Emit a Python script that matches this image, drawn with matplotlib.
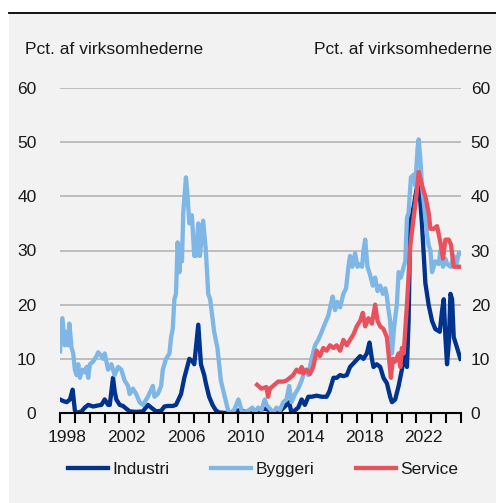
import matplotlib
matplotlib.use("Agg")
import matplotlib.pyplot as plt
import numpy as np
from matplotlib.patches import Rectangle
from matplotlib.lines import Line2D

plt.rcParams['font.family'] = ['Liberation Sans', 'DejaVu Sans']

# share of firms reporting shortage (pct.)
industri_t = [1998.00, 1998.22, 1998.45, 1998.67, 1998.85, 1999.00, 1999.12, 1999.45, 1999.67, 1999.90,
              2000.23, 2000.57, 2000.79, 2001.01, 2001.24, 2001.35, 2001.57, 2001.68, 2001.79, 2002.02,
              2002.24, 2002.46, 2002.69, 2003.13, 2003.58, 2003.92, 2004.14, 2004.47, 2004.81, 2005.03,
              2005.25, 2005.59, 2005.81, 2006.15, 2006.37, 2006.71, 2006.93, 2007.04, 2007.31, 2007.49,
              2007.71, 2007.82, 2008.04, 2008.27, 2008.49, 2008.71, 2009.16, 2009.61, 2010.05, 2010.50,
              2010.89, 2011.34, 2011.79, 2012.13, 2012.35, 2012.58, 2012.80, 2013.25, 2013.43, 2013.59,
              2013.82, 2014.04, 2014.27, 2014.49, 2014.72, 2014.94, 2015.28, 2015.62, 2015.95, 2016.14,
              2016.41, 2016.63, 2016.86, 2017.08, 2017.31, 2017.53, 2017.87, 2018.21, 2018.43, 2018.66,
              2018.84, 2019.00, 2019.11, 2019.33, 2019.56, 2019.78, 2020.01, 2020.23, 2020.35, 2020.57,
              2020.80, 2021.02, 2021.14, 2021.25, 2021.36, 2021.47, 2021.59, 2021.81, 2021.99, 2022.15,
              2022.37, 2022.60, 2022.82, 2023.05, 2023.27, 2023.57, 2023.73, 2023.84, 2023.95, 2024.06,
              2024.18, 2024.29, 2024.40, 2024.51, 2024.74, 2024.96]
industri = [2.5, 2.2, 2.0, 2.5, 4.3, 0.5, 0.0, 0.3, 1.0, 1.5,
            1.2, 1.4, 1.5, 2.5, 1.5, 1.5, 6.5, 4.0, 2.5, 1.5,
            1.3, 0.8, 0.3, 0.2, 0.3, 1.5, 1.0, 0.3, 0.4, 1.2,
            1.3, 1.3, 1.5, 3.5, 6.5, 10.0, 9.5, 9.0, 16.3, 9.0,
            7.0, 5.5, 3.0, 1.5, 0.5, 0.1, 0.0, 0.2, 0.5, 0.2,
            0.2, 0.5, 0.8, 0.5, 0.0, 0.2, 0.3, 1.5, 2.0, 0.0,
            0.5, 1.0, 2.5, 1.5, 3.0, 3.0, 3.2, 3.0, 3.0, 4.0,
            6.5, 6.5, 7.0, 6.8, 7.0, 8.5, 9.5, 10.5, 10.0, 11.0,
            13.0, 10.0, 8.5, 9.0, 8.5, 6.5, 5.5, 3.0, 2.0, 2.5,
            5.0, 8.0, 10.0, 11.0, 8.5, 17.0, 36.0, 38.0, 41.0, 43.0,
            35.0, 24.0, 20.0, 17.0, 15.5, 15.0, 19.0, 21.0, 14.0, 9.0,
            13.0, 22.0, 21.0, 14.0, 12.0, 10.0]

byggeri_t = [1998.00, 1998.16, 1998.33, 1998.45, 1998.56, 1998.63, 1998.78, 1998.89, 1999.00, 1999.12,
             1999.23, 1999.34, 1999.50, 1999.67, 1999.79, 1999.90, 2000.01, 2000.23, 2000.46, 2000.57,
             2000.79, 2000.90, 2001.01, 2001.24, 2001.46, 2001.68, 2001.91, 2002.13, 2002.35, 2002.58,
             2002.69, 2002.91, 2003.13, 2003.36, 2003.58, 2003.92, 2004.25, 2004.36, 2004.58, 2004.81,
             2004.92, 2005.14, 2005.37, 2005.48, 2005.59, 2005.70, 2005.81, 2005.92, 2006.04, 2006.15,
             2006.21, 2006.30, 2006.48, 2006.59, 2006.71, 2006.88, 2007.04, 2007.15, 2007.31, 2007.42,
             2007.64, 2007.82, 2007.98, 2008.11, 2008.38, 2008.60, 2008.83, 2009.05, 2009.27, 2009.38,
             2009.72, 2010.01, 2010.28, 2010.61, 2010.95, 2011.11, 2011.34, 2011.56, 2011.79, 2011.90,
             2012.13, 2012.35, 2012.58, 2012.80, 2013.03, 2013.25, 2013.43, 2013.59, 2013.82, 2014.04,
             2014.27, 2014.49, 2014.72, 2014.94, 2015.17, 2015.39, 2015.62, 2015.84, 2016.07, 2016.23,
             2016.36, 2016.52, 2016.68, 2016.86, 2017.08, 2017.26, 2017.42, 2017.53, 2017.69, 2017.87,
             2018.03, 2018.21, 2018.34, 2018.43, 2018.55, 2018.70, 2018.88, 2019.06, 2019.22, 2019.38,
             2019.56, 2019.74, 2019.90, 2020.01, 2020.12, 2020.23, 2020.35, 2020.50, 2020.68, 2020.80,
             2020.95, 2021.14, 2021.25, 2021.36, 2021.47, 2021.63, 2021.81, 2021.92, 2022.08, 2022.15,
             2022.26, 2022.37, 2022.53, 2022.71, 2022.82, 2022.94, 2023.05, 2023.27, 2023.50, 2023.61,
             2023.79, 2023.95, 2024.06, 2024.29, 2024.51, 2024.69, 2024.85, 2024.96]
byggeri = [11.4, 17.5, 12.5, 15.0, 12.5, 16.5, 12.0, 11.0, 8.0, 7.0,
           9.0, 6.5, 8.0, 7.5, 8.5, 6.5, 9.0, 9.5, 10.5, 11.2,
           10.5, 10.0, 11.0, 8.0, 9.0, 7.0, 8.5, 8.0, 6.0, 5.0,
           3.5, 4.5, 3.5, 2.0, 1.5, 3.0, 5.0, 3.0, 3.5, 5.0,
           8.0, 10.0, 11.0, 14.0, 15.5, 21.0, 22.0, 31.5, 26.0, 31.0,
           28.0, 37.0, 43.5, 40.0, 35.0, 36.5, 29.0, 29.0, 35.0, 29.0,
           35.5, 30.0, 22.0, 21.0, 15.0, 12.0, 6.0, 3.5, 1.0, 0.0,
           0.5, 2.5, 0.0, 0.3, 1.0, 0.0, 1.0, 0.5, 2.5, 1.5,
           0.8, 0.0, 1.0, 0.5, 2.0, 2.5, 5.0, 2.0, 3.5, 4.5,
           6.0, 8.0, 7.0, 10.0, 12.5, 13.5, 15.0, 16.5, 18.0, 20.0,
           21.5, 19.0, 20.5, 19.5, 22.0, 23.0, 27.0, 29.0, 27.0, 29.5,
           27.0, 27.5, 27.0, 30.0, 32.0, 27.0, 25.5, 23.5, 25.0, 22.5,
           23.5, 22.0, 23.0, 21.5, 19.0, 17.0, 11.0, 16.0, 20.0, 26.0,
           25.0, 27.0, 28.0, 36.0, 37.0, 43.5, 44.0, 42.0, 49.0, 50.5,
           47.0, 42.0, 38.0, 33.0, 31.0, 30.0, 26.0, 28.0, 27.5, 30.0,
           27.0, 28.5, 27.5, 27.0, 29.0, 27.5, 29.5, 29.5]

service_t = [2011.27, 2011.56, 2011.90, 2012.01, 2012.13, 2012.35, 2012.69, 2013.03, 2013.25, 2013.48,
             2013.70, 2013.93, 2014.15, 2014.27, 2014.38, 2014.60, 2014.83, 2015.05, 2015.28, 2015.50,
             2015.73, 2015.95, 2016.18, 2016.41, 2016.63, 2016.86, 2017.08, 2017.31, 2017.53, 2017.76,
             2017.98, 2018.21, 2018.39, 2018.55, 2018.77, 2019.00, 2019.22, 2019.38, 2019.56, 2019.78,
             2020.01, 2020.12, 2020.28, 2020.41, 2020.57, 2020.80, 2020.91, 2021.02, 2021.14, 2021.36,
             2021.59, 2021.81, 2021.99, 2022.15, 2022.37, 2022.60, 2022.82, 2022.94, 2023.16, 2023.39,
             2023.61, 2023.79, 2023.95, 2024.18, 2024.33, 2024.51, 2024.74, 2024.96]
service = [5.2, 4.5, 4.8, 3.0, 4.5, 5.0, 5.8, 5.8, 6.0, 6.5,
           7.0, 8.0, 7.5, 8.5, 7.3, 8.0, 7.2, 8.5, 11.5, 10.5,
           12.0, 11.5, 12.5, 12.0, 12.5, 11.5, 13.5, 12.5, 13.5, 14.5,
           16.0, 17.0, 18.5, 16.0, 17.5, 16.5, 20.0, 17.0, 16.0, 15.5,
           14.0, 11.0, 6.5, 10.0, 9.5, 11.0, 8.5, 12.0, 11.0, 20.0,
           31.0, 36.0, 40.0, 44.5, 42.0, 40.0, 37.0, 34.0, 34.0, 34.5,
           31.5, 28.5, 32.0, 32.0, 31.0, 27.0, 27.0, 27.0]

year_labels = ['1998', '2002', '2006', '2010', '2014', '2018', '2022']

c_ind = '#00338d'
c_byg = '#7eb7e6'
c_ser = '#e9525c'
txt = '#1a1a1a'
lw = 3.1

fig = plt.figure(figsize=(4.96, 5.03), dpi=100)
fig.patch.set_facecolor('white')
fig.patches.append(Rectangle((9 / 496, 0), 1, 489 / 503, transform=fig.transFigure,
                             facecolor='#f2f2f2', edgecolor='none', zorder=-10))
fig.lines.append(Line2D([9 / 496, 1], [490 / 503, 490 / 503], transform=fig.transFigure,
                        color='black', lw=1.3))

ax = fig.add_axes([60 / 496, 90 / 503, 401 / 496, 325 / 503])
ax.set_facecolor('none')

ax.plot(industri_t, industri, color=c_ind, lw=lw, solid_joinstyle='round', zorder=3)
ax.plot(byggeri_t, byggeri, color=c_byg, lw=lw, solid_joinstyle='round', zorder=4)
ax.plot(service_t, service, color=c_ser, lw=lw, solid_joinstyle='round', zorder=5)

ax.set_xlim(1998, 2025)
ax.set_ylim(0, 60)
for s in ['top', 'right', 'left']:
    ax.spines[s].set_visible(False)
ax.spines['bottom'].set_linewidth(1.5)
ax.spines['bottom'].set_color('black')
ax.spines['bottom'].set_zorder(6)

ax.set_yticks(range(0, 61, 10))
ax.yaxis.grid(True, color='#b4b4b4', lw=1.2)
ax.set_axisbelow(True)
ax.tick_params(axis='y', length=0, labelsize=12.5, labelcolor=txt, pad=17)

# year boundaries as ticks, labels in the middle of each year
ax.set_xticks(np.arange(1998, 2026, 1))
ax.set_xticklabels([])
ax.set_xticks([int(y) + 0.5 for y in year_labels], minor=True)
ax.set_xticklabels(year_labels, minor=True)
ax.tick_params(axis='x', which='major', length=7, width=1.5, color='black', direction='out')
ax.tick_params(axis='x', which='minor', length=0, labelsize=12.5, labelcolor=txt, pad=12)

# right hand axis, same scale
ax2 = ax.twinx()
ax2.set_ylim(0, 60)
ax2.set_yticks(range(0, 61, 10))
ax2.tick_params(axis='y', length=0, labelsize=12.5, labelcolor=txt, pad=7)
for s in ax2.spines.values():
    s.set_visible(False)

fig.text(25 / 496, 1 - 50 / 503, 'Pct. af virksomhederne', fontsize=12.5, color=txt,
         ha='left', va='center')
fig.text(492 / 496, 1 - 50 / 503, 'Pct. af virksomhederne', fontsize=12.5, color=txt,
         ha='right', va='center')

handles = [Line2D([], [], color=c_ind, lw=lw),
           Line2D([], [], color=c_byg, lw=lw),
           Line2D([], [], color=c_ser, lw=lw)]
fig.legend(handles, ['Industri', 'Byggeri', 'Service'], ncol=3, frameon=False,
           loc='center', bbox_to_anchor=(263 / 496, 1 - 469 / 503),
           fontsize=12.5, handlelength=2.3, handletextpad=0.25, columnspacing=2.4,
           labelcolor=txt)

fig.savefig('out.png', dpi=100, facecolor='white')
